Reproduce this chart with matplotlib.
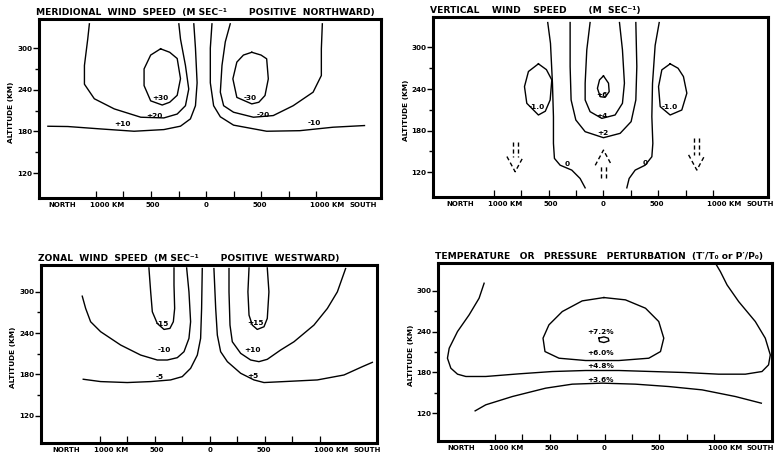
import numpy as np
import matplotlib
matplotlib.use("Agg")
import matplotlib.pyplot as plt

plt.rcParams['font.family'] = ['DejaVu Sans']
plt.rcParams['font.weight'] = 'bold'

# horizontal distance (km, negative = north) and altitude (km) of each hand-drawn isoline

# meridional wind speed (m/s, positive northward)
merid_p10 = [(-111, 335), (-96, 300), (-81, 250), (-96, 217), (-142, 198), (-232, 187.5),
             (-383, 182.6), (-654, 180.2), (-955, 183.5), (-1256, 187), (-1437, 187.4)]
merid_p20 = [(-247, 335), (-232, 313), (-187, 275), (-157, 241), (-187, 217), (-262, 205),
             (-383, 199.4), (-593, 200.4), (-834, 212.4), (-1015, 227), (-1105, 248),
             (-1105, 275), (-1075, 313), (-1060, 335)]
merid_p30 = [(-413, 299), (-330, 294), (-262, 285), (-232, 256), (-262, 232), (-330, 222),
             (-398, 218), (-503, 224), (-563, 246), (-563, 270), (-503, 290), (-413, 299)]
merid_m10 = [(54, 335), (39, 300), (39, 250), (69, 217), (130, 201), (250, 189),
             (551, 180.2), (852, 181), (1154, 186), (1440, 188.4)]
merid_m20 = [(220, 335), (175, 309), (145, 275), (130, 236.5), (160, 217), (250, 207.6),
             (431, 200.4), (611, 202.8), (792, 217), (973, 236.5), (1048, 260.5),
             (1048, 299), (1057, 335)]
merid_m30 = [(416, 294), (500, 290), (551, 284.6), (566, 255.7), (536, 231.7), (480, 222),
             (416, 219.6), (280, 229), (244, 255.7), (280, 279.8), (340, 290), (416, 294)]
merid_labels = [("+30", -419, 228), ("+20", -473, 202.5), ("+10", -759, 190),
                ("-30", 401, 228), ("-20", 521, 204), ("-10", 988, 192)]

# vertical wind speed (m/s)
vert_0_left = [(-508, 336), (-483, 306), (-465, 248), (-456, 200), (-456, 161.5), (-447, 139.8),
               (-395, 130), (-289, 122.9), (-213, 110.8), (-167, 97.3)]
vert_0_right = [(508, 336), (471, 303), (447, 248), (441, 200), (450, 161.5), (441, 142.2),
                (380, 130), (289, 122.9), (234, 110.8), (213, 97.3)]
vert_p2 = [(-304, 336), (-304, 272.5), (-295, 224.2), (-252, 195.3), (-167, 178.4), (0, 169.7),
           (152, 176), (252, 192.9), (295, 224.2), (304, 272.5), (295, 336)]
vert_p4 = [(-122, 336), (-152, 296.6), (-167, 248.4), (-167, 224.2), (-122, 207.3), (-15, 197.6),
           (106, 202.5), (173, 219.4), (191, 248.4), (173, 296.6), (146, 336)]
vert_p6 = [(0, 259), (46, 248.4), (52, 236.3), (15, 228), (-30, 229), (-55, 241),
           (-36, 253.2), (0, 259)]
vert_m1_left = [(-593, 276.4), (-520, 268), (-471, 253.2), (-486, 224.2), (-530, 208),
                (-593, 202.5), (-699, 219.4), (-720, 243.5), (-684, 265.3), (-593, 276.4)]
vert_m1_right = [(608, 276.4), (680, 270), (729, 258), (760, 234), (714, 209.7), (608, 202.5),
                 (517, 214.6), (502, 243.5), (532, 267.7), (608, 276.4)]
vert_labels = [("-1.0", -608, 213.6), ("-1.0", 608, 213.6), ("+6", -15, 231.5),
               ("+4", -15, 201), ("+2", -9, 176), ("0", -334, 131), ("0", 380, 132.5)]
# dashed arrows: position, tail altitude, tip altitude
vert_arrows = [(-805, 164, 120.5), (0, 110.8, 151.8), (851, 168.7, 122.9)]

# zonal wind speed (m/s, positive westward)
zonal_m15 = [(-555, 334.8), (-539, 300), (-524, 271), (-479, 254), (-418, 245.3), (-364, 246.8),
             (-333, 256.5), (-321, 275.8), (-327, 309.7), (-327, 334.8)]
zonal_p15 = [(355, 334.8), (345, 300), (355, 266.1), (385, 251.6), (430, 245.3), (491, 249.2),
             (521, 261.3), (536, 300), (521, 334.8)]
zonal_m10 = [(-1161, 293.7), (-1130, 275.8), (-1085, 256.5), (-994, 242), (-812, 222.6),
             (-630, 208), (-479, 200.8), (-388, 200.8), (-297, 204.2), (-236, 212.9),
             (-191, 232.3), (-176, 256.5), (-191, 300), (-212, 334.8)]
zonal_p10 = [(1233, 333.9), (1158, 300), (1067, 275.8), (945, 251.6), (764, 227.4), (642, 215.3),
             (521, 201.8), (445, 198.4), (370, 200.8), (279, 210.5), (203, 227.4), (182, 251.6),
             (173, 300), (173, 333.9)]
zonal_m5 = [(-1152, 172.8), (-994, 169.4), (-752, 168), (-539, 169.4), (-358, 171.8), (-252, 176.6),
            (-176, 188.7), (-115, 208), (-85, 232.3), (-76, 275.8), (-70, 333.9)]
zonal_p5 = [(36, 333.9), (52, 275.8), (67, 237), (97, 212.9), (158, 198.4), (279, 181.5),
            (400, 171.8), (491, 168), (673, 169.4), (976, 171.8), (1218, 179), (1385, 191.1),
            (1476, 197.4)]
zonal_labels = [("-15", -433, 253), ("+15", 415, 255), ("-10", -418, 215.3),
                ("+10", 385, 215.3), ("-5", -455, 176.6), ("+5", 391, 178)]

# temperature / pressure perturbation (%)
temp_p48 = [(-1100, 311.3), (-1146, 289.2), (-1237, 264.7), (-1343, 240.2), (-1419, 215.6),
            (-1435, 200.9), (-1404, 186.2), (-1343, 177.4), (-1267, 174), (-1085, 174),
            (-781, 177.9), (-477, 181.3), (-173, 182.8), (131, 182.8), (435, 181.3),
            (739, 179.8), (1043, 177.4), (1286, 177.4), (1438, 181.3), (1498, 191.1),
            (1514, 205.8), (1468, 230.4), (1377, 254.9), (1225, 284.3), (1119, 308.8),
            (1058, 328.4), (1012, 341)]
temp_p60 = [(-6, 290.2), (191, 286.8), (374, 274.5), (495, 254.9), (541, 230.4), (511, 210.7),
            (404, 200.9), (131, 197.5), (-173, 197.5), (-416, 200.9), (-544, 210.7),
            (-562, 230.4), (-508, 250), (-386, 269.6), (-204, 285.3), (-6, 290.2)]
temp_p72 = [(-52, 230.4), (-6, 232.3), (33, 230.4), (40, 226.4), (-6, 224), (-46, 225.5),
            (-52, 230.4)]
temp_p36 = [(-1182, 123.4), (-1085, 132.3), (-842, 144.5), (-538, 156.8), (-295, 162.7),
            (-21, 164.2), (283, 162.7), (587, 159.2), (891, 154.3), (1195, 144.5), (1432, 134.7)]
temp_labels = [("+7.2%", -36, 239), ("+6.0%", -36, 208.3), ("+4.8%", -36, 188.7),
               ("+3.6%", -36, 169)]

# axis annotation
alt_ticks = [120, 180, 240, 300]
alt_minor = [150, 210, 270]
dist_ticks = [-1000, -750, -500, -250, 0, 250, 500, 750, 1000]
dist_lab_pos = [-1310, -900, -480, 0, 485, 1100, 1425]
dist_lab_txt = ["NORTH", "1000 KM", "500", "0", "500", "1000 KM", "SOUTH"]

fig = plt.figure(figsize=(7.75, 4.54), dpi=100)


def panel(rect, xlim, ylim, title, curves, labels):
    ax = fig.add_axes(rect)
    for c in curves:
        c = np.array(c)
        ax.plot(c[:, 0], c[:, 1], color='black', lw=1.0, solid_joinstyle='round')
    for t, x, y in labels:
        ax.text(x, y, t, fontsize=5.3, ha='center', va='center')
    ax.set_xlim(xlim)
    ax.set_ylim(ylim)
    for s in ax.spines.values():
        s.set_linewidth(2.2)
    ax.set_xticks(dist_ticks)
    ax.set_xticklabels([])
    ax.tick_params(axis='x', direction='in', length=5, width=0.9)
    ax.set_yticks(alt_ticks)
    ax.set_yticks(alt_minor, minor=True)
    ax.tick_params(axis='y', which='major', direction='out', length=4, width=1.0,
                   labelsize=5.2, pad=1)
    ax.tick_params(axis='y', which='minor', direction='out', length=3, width=1.0)
    for p, t in zip(dist_lab_pos, dist_lab_txt):
        ax.text(p, -0.04, t, transform=ax.get_xaxis_transform(), fontsize=5.0,
                ha='center', va='center')
    ax.text(-0.082, 0.48, "ALTITUDE (KM)", transform=ax.transAxes, rotation=90,
            fontsize=5.3, ha='center', va='center')
    ax.text(-0.01, 1.025, title, transform=ax.transAxes, fontsize=6.6,
            ha='left', va='baseline')
    return ax


panel([0.0503, 0.5639, 0.4413, 0.3943], (-1518, 1590), (84, 342),
      "MERIDIONAL  WIND  SPEED  (M SEC\u207b\u00b9       POSITIVE  NORTHWARD)",
      [merid_p10, merid_p20, merid_p30, merid_m10, merid_m20, merid_m30], merid_labels)

ax2 = panel([0.5587, 0.566, 0.4323, 0.3965], (-1554, 1500), (84, 344),
            "VERTICAL    WIND    SPEED       (M  SEC\u207b\u00b9)",
            [vert_0_left, vert_0_right, vert_p2, vert_p4, vert_p6, vert_m1_left, vert_m1_right],
            vert_labels)
for x, tail, tip in vert_arrows:
    d = 1 if tip > tail else -1
    base = tip - d * 22
    for off in (-22, 22):
        ax2.plot([x + off, x + off], [tail, base], color='black', lw=1.0, ls=(0, (3, 2)))
    ax2.plot([x - 75, x, x + 75], [base, tip, base], color='black', lw=1.0, ls=(0, (3, 2)))

panel([0.0529, 0.0242, 0.4335, 0.392], (-1536, 1518), (80, 339),
      "ZONAL  WIND  SPEED  (M SEC\u207b\u00b9       POSITIVE  WESTWARD)",
      [zonal_m15, zonal_p15, zonal_m10, zonal_p10, zonal_m5, zonal_p5], zonal_labels)

panel([0.5652, 0.0286, 0.431, 0.392], (-1521, 1530), (79, 341),
      "TEMPERATURE   OR   PRESSURE   PERTURBATION  (T\u2032/T\u2080 or P\u2032/P\u2080)",
      [temp_p48, temp_p60, temp_p72, temp_p36], temp_labels)

fig.savefig("out.png", dpi=100)
